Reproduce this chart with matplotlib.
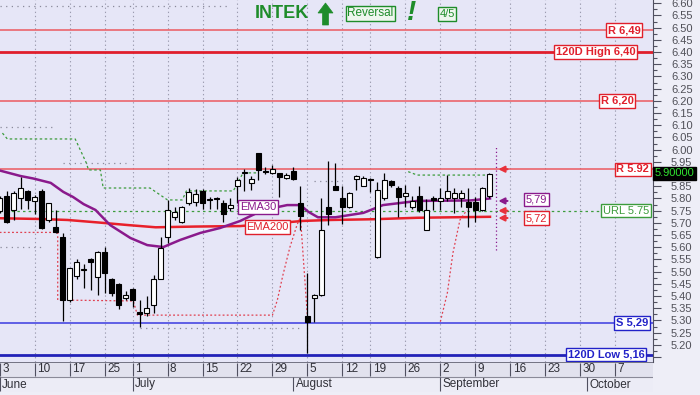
import matplotlib
matplotlib.use('Agg')
import matplotlib.pyplot as plt
import numpy as np
from matplotlib.patches import Polygon, Rectangle
from matplotlib.ticker import FixedLocator, FixedFormatter

plt.rcParams['font.family'] = ['Liberation Sans', 'DejaVu Sans']

# ---------------- data ----------------
opens = [5.75, 5.81, 5.753, 5.801, 5.832, 5.791, 5.832, 5.712, 5.682, 5.644,
         5.384, 5.482, 5.505, 5.551, 5.480, 5.582, 5.471, 5.450, 5.391, 5.430,
         5.335, 5.330, 5.362, 5.471, 5.644, 5.724, 5.705, 5.780, 5.787, 5.832,
         5.796, 5.800, 5.780, 5.760, 5.851, 5.905, 5.862, 5.985, 5.913, 5.903,
         5.903, 5.883, 5.911, 5.780, 5.318, 5.391, 5.404, 5.764, 5.852, 5.801,
         5.764, 5.881, 5.852, 5.881, 5.561, 5.801, 5.872, 5.842, 5.810, 5.764,
         5.810, 5.671, 5.801, 5.790, 5.801, 5.801, 5.801, 5.787, 5.787, 5.753,
         5.810]
highs = [5.81, 5.83, 5.83, 5.887, 5.835, 5.814, 5.838, 5.78, 5.753, 5.658,
         5.514, 5.551, 5.531, 5.556, 5.585, 5.603, 5.475, 5.455, 5.422, 5.433,
         5.384, 5.400, 5.486, 5.644, 5.794, 5.764, 5.770, 5.845, 5.838, 5.838,
         5.805, 5.808, 5.794, 5.801, 5.889, 5.920, 5.892, 5.985, 5.930, 5.937,
         5.905, 5.905, 5.930, 5.851, 5.493, 5.410, 5.801, 5.955, 5.944, 5.851,
         5.826, 5.895, 5.892, 5.885, 5.869, 5.903, 5.875, 5.851, 5.855, 5.810,
         5.851, 5.797, 5.810, 5.842, 5.896, 5.842, 5.835, 5.842, 5.807, 5.848,
         5.905]
lows = [5.74, 5.70, 5.712, 5.756, 5.756, 5.736, 5.675, 5.705, 5.66, 5.298,
        5.375, 5.469, 5.432, 5.425, 5.404, 5.411, 5.400, 5.346, 5.385, 5.357,
        5.275, 5.320, 5.330, 5.470, 5.616, 5.712, 5.700, 5.775, 5.770, 5.756,
        5.756, 5.756, 5.705, 5.750, 5.783, 5.832, 5.835, 5.876, 5.900, 5.900,
        5.805, 5.880, 5.875, 5.671, 5.166, 5.295, 5.400, 5.691, 5.833, 5.696,
        5.762, 5.835, 5.850, 5.828, 5.556, 5.795, 5.848, 5.725, 5.766, 5.756,
        5.746, 5.671, 5.753, 5.753, 5.790, 5.739, 5.764, 5.684, 5.705, 5.750,
        5.800]
closes = [5.80, 5.705, 5.821, 5.842, 5.794, 5.805, 5.678, 5.780, 5.663, 5.384,
          5.514, 5.541, 5.509, 5.541, 5.582, 5.493, 5.414, 5.364, 5.404, 5.384,
          5.328, 5.350, 5.471, 5.596, 5.753, 5.743, 5.764, 5.828, 5.818, 5.780,
          5.792, 5.796, 5.737, 5.772, 5.876, 5.909, 5.879, 5.917, 5.909, 5.920,
          5.887, 5.896, 5.879, 5.728, 5.295, 5.404, 5.671, 5.737, 5.835, 5.764,
          5.824, 5.892, 5.883, 5.877, 5.835, 5.876, 5.856, 5.805, 5.824, 5.791,
          5.753, 5.753, 5.794, 5.801, 5.832, 5.824, 5.824, 5.766, 5.753, 5.842,
          5.900]

ema30_idx = [0.1, 3.0, 4.8, 7.3, 9.1, 10.5, 12.0, 13.7, 15.8, 18.7, 21.1, 23.4, 25.8,
             28.7, 31.5, 34.4, 36.8, 39.1, 41.1, 43.0, 44.1, 45.5, 48.0, 52.0, 54.8,
             59.7, 67.3, 70.1]
ema30_val = [5.914, 5.892, 5.882, 5.864, 5.827, 5.806, 5.777, 5.753, 5.691, 5.638,
             5.609, 5.601, 5.630, 5.659, 5.679, 5.708, 5.741, 5.761, 5.773, 5.773,
             5.746, 5.723, 5.723, 5.741, 5.773, 5.790, 5.792, 5.800]

ema200_idx = [0.1, 5.8, 9.7, 14.4, 18.4, 22.3, 28.0, 34.4, 40.1, 43.3, 47.3, 53.4, 59.7, 70.1]
ema200_val = [5.719, 5.716, 5.712, 5.701, 5.691, 5.682, 5.685, 5.687, 5.700, 5.708,
              5.712, 5.715, 5.721, 5.725]

stop_up_idx = [0.4, 1.1, 10.8, 12.4, 12.7, 14.4, 14.8, 21.5, 24.0, 26.1, 26.7, 33.4, 34.8, 37.0]
stop_up_val = [6.068, 6.044, 6.044, 5.945, 5.917, 5.917, 5.843, 5.843, 5.794, 5.794,
               5.831, 5.831, 5.905, 5.905]
stop_up2_idx = [58.4, 59.7, 70.1]
stop_up2_val = [5.910, 5.896, 5.896]

sar1_idx = [0.0, 8.3, 8.3, 19.1, 19.7, 39.0, 39.7, 40.5, 41.5, 42.5, 43.0, 44.0]
sar1_val = [5.661, 5.661, 5.384, 5.380, 5.322, 5.322, 5.384, 5.487, 5.601, 5.691, 5.724, 5.314]
sar2_idx = [63.0, 64.0, 64.8, 65.8, 66.8]
sar2_val = [5.295, 5.413, 5.577, 5.712, 5.753]

swing_idx_start = [0, 0, 9, 45, 0, 20]
swing_idx_end = [33, 8, 18, 49, 6, 43]
swing_val = [6.59, 6.093, 5.946, 5.873, 5.60, 5.27]

week_idx = [0, 5, 10, 15, 19, 24, 29, 34, 39, 44, 49, 53, 58, 63, 68, 73, 78, 83, 88]
week_lab = ['3', '10', '17', '25', '1', '8', '15', '22', '29', '5', '12', '19', '26',
            '2', '9', '16', '23', '30', '7']
month_idx = [0, 19, 42, 63, 84]
month_lab = ['June', 'July', 'August', 'September', 'October']

res_levels = [6.49, 6.20, 5.92]
res_labels = ['R 6,49', 'R 6,20', 'R 5.92']
high120 = 6.40
low120 = 5.16
sup_level = 5.29
url_level = 5.75
ema30_last = 5.79
ema200_last = 5.72
last_price = 5.90

# ---------------- figure ----------------
W, H = 700, 395
fig = plt.figure(figsize=(W / 100, H / 100), dpi=100, facecolor='#EEEEF7')

def fx(x):
    return x / W

def fy(y):
    return 1 - y / H

PLOT_R = 653
PLOT_B = 362
ax = fig.add_axes([0, fy(PLOT_B), fx(PLOT_R), PLOT_B / H])
ax.set_facecolor('#E6E6F7')
XL = (0.05, 93.4)
YL = (5.1299, 6.6135)
ax.set_xlim(*XL)
ax.set_ylim(*YL)

# grid
for wi in week_idx[1:]:
    ax.axvline(wi, color='#9C9CB0', lw=0.8, ls=(0, (1.2, 2.5)), zorder=1)

# levels
RED = '#E8323C'
for lv in res_levels:
    ax.axhline(lv, color='#EC5A60', lw=1.1, zorder=2)
ax.axhline(high120, color='#E01E2C', lw=2.0, zorder=2)
ax.axhline(sup_level, color='#3A3AE0', lw=1.1, zorder=2)
ax.axhline(low120, color='#2222B8', lw=2.0, zorder=2)
ax.axhline(url_level, color='#3C9C3C', lw=0.9, ls=(0, (2, 2.5)), zorder=2)

# swing dotted lines
for s, e, v in zip(swing_idx_start, swing_idx_end, swing_val):
    ax.plot([s, e], [v, v], color='#8A8A9A', lw=0.9, ls=(0, (1, 3.5)), zorder=2)

# trailing stops
ax.plot(stop_up_idx, stop_up_val, color='#3C9C3C', lw=0.9, ls=(0, (2, 2)), zorder=2)
ax.plot(stop_up2_idx, stop_up2_val, color='#3C9C3C', lw=0.9, ls=(0, (2, 2)), zorder=2)
ax.plot(sar1_idx, sar1_val, color='#E04050', lw=0.9, ls=(0, (1.5, 1.8)), zorder=2)
ax.plot(sar2_idx, sar2_val, color='#E04050', lw=0.9, ls=(0, (1.5, 1.8)), zorder=2)

# EMAs
ax.plot(ema200_idx, ema200_val, color='#E8202A', lw=1.8, zorder=3)
ax.plot(ema30_idx, ema30_val, color='#8A1A8C', lw=1.8, zorder=3)

# candles
idx = np.arange(len(opens))
o = np.array(opens); c = np.array(closes); h = np.array(highs); l = np.array(lows)
ax.vlines(idx, l, h, color='black', lw=0.9, zorder=4)
up = c >= o
bottoms = np.minimum(o, c)
heights = np.maximum(np.abs(c - o), 0.003)
ax.bar(idx[up], heights[up], bottom=bottoms[up], width=0.66, color='white',
       edgecolor='black', lw=0.8, zorder=5)
ax.bar(idx[~up], heights[~up], bottom=bottoms[~up], width=0.66, color='black',
       edgecolor='black', lw=0.8, zorder=5)

# marker line and arrows
ax.plot([71, 71], [5.59, 6.01], color='#8A1A8C', lw=0.9, ls=(0, (1, 2)), zorder=3)
for lv, col in [(5.92, RED), (ema30_last, '#8A1A8C'), (url_level, RED), (ema200_last, RED)]:
    ax.annotate('', xy=(71.3, lv), xytext=(72.6, lv),
                arrowprops=dict(arrowstyle='-|>,head_length=0.35,head_width=0.18',
                                color=col, lw=1.5, shrinkA=0, shrinkB=0), zorder=6)

# labels
def box(x, y, s, col, bold=False, ha='center'):
    ax.text(x, y, s, color=col, fontsize=8, fontweight='bold' if bold else 'normal',
            ha=ha, va='center', zorder=7,
            bbox=dict(boxstyle='square,pad=0.15', fc='white', ec=col, lw=1))

box(89.3, 6.49, res_labels[0], '#E0202C', True)
box(85.2, 6.40, '120D High 6,40', '#E0202C', True)
box(88.3, 6.20, res_labels[1], '#E0202C', True)
box(90.5, 5.92, res_labels[2], '#E0202C', True)
box(89.5, 5.75, 'URL 5.75', '#3C9C3C')
box(90.4, 5.29, 'S 5,29', '#2222C8', True)
box(86.7, 5.16, '120D Low 5,16', '#2222C8', True)
box(76.7, 5.796, '5,79', '#8A1A8C')
box(76.7, 5.72, '5,72', '#E0202C')
box(36.9, 5.765, 'EMA30', '#8A1A8C')
box(38.3, 5.683, 'EMA200', '#E0202C')

# right axis
for sp in ['top', 'left', 'bottom']:
    ax.spines[sp].set_visible(False)
ax.spines['right'].set_color('#505060')
ax.yaxis.tick_right()
ticks = [round(5.15 + 0.05 * k, 2) for k in range(30)]
ax.yaxis.set_major_locator(FixedLocator(ticks))
ax.yaxis.set_major_formatter(FixedFormatter(
    ['' if (t < 5.17 or abs(t - last_price) < 0.01) else f'{t:.2f}' for t in ticks]))
ax.yaxis.set_minor_locator(FixedLocator([t + 0.025 for t in ticks]))
ax.tick_params(axis='y', which='major', direction='out', length=6, width=0.8,
               color='#505060', labelsize=8, labelcolor='#505058', pad=7)
ax.tick_params(axis='y', which='minor', direction='out', length=3, width=0.8, color='#505060')
ax.set_xticks([])

# bottom date axis
axx = fig.add_axes([0, fy(392), fx(PLOT_R), 30 / H])
axx.set_xlim(*XL)
axx.set_ylim(0, 2)
axx.axis('off')
axx.add_patch(Rectangle((XL[0], 1), XL[1] - XL[0], 1, fc='#E2E2EE', ec='none'))
axx.add_patch(Rectangle((XL[0], 0), XL[1] - XL[0], 1, fc='#ECECF6', ec='none'))
axx.plot(XL, [2, 2], color='#606070', lw=1.2)
axx.plot(XL, [1, 1], color='#8A8A98', lw=0.8)
axx.vlines(week_idx, 1.1, 1.95, color='#505060', lw=0.8)
axx.vlines(month_idx, 0.05, 1.0, color='#505060', lw=0.8)
for wi, wl in zip(week_idx, week_lab):
    axx.text(wi + 0.35, 1.5, wl, fontsize=8.5, color='#303038', ha='left', va='center')
for mi, ml in zip(month_idx, month_lab):
    axx.text(mi + 0.35, 0.5, ml, fontsize=8.5, color='#303038', ha='left', va='center')

# last price box
fig.text(fx(674.5), fy(173.5), '5.90000', fontsize=8, color='#30E030', ha='center', va='center',
         bbox=dict(boxstyle='square,pad=0.12', fc='black', ec='black'), zorder=10)

# title
GREEN = '#1E8C2A'
fig.text(fx(255), fy(14), 'INTEK', fontsize=13, fontweight='bold', color=GREEN, ha='left', va='center')
arrow_pts = [(318, 13), (325.5, 3), (333, 13), (328.5, 13), (328.5, 25), (322.5, 25), (322.5, 13)]
fig.patches.append(Polygon([(fx(x), fy(y)) for x, y in arrow_pts], closed=True,
                           transform=fig.transFigure, fc=GREEN, ec=GREEN, lw=0.5))
fig.text(fx(370.5), fy(13.5), 'Reversal', fontsize=8.5, color=GREEN, ha='center', va='center',
         bbox=dict(boxstyle='square,pad=0.15', fc='#EEF6EE', ec=GREEN, lw=1))
fig.text(fx(412), fy(13.5), '!', fontsize=20, fontweight='bold', fontstyle='italic',
         color=GREEN, ha='center', va='center')
fig.text(fx(447), fy(14), '4/5', fontsize=8, color=GREEN, ha='center', va='center',
         bbox=dict(boxstyle='square,pad=0.15', fc='#EEF6EE', ec=GREEN, lw=1))

fig.savefig('out.png', dpi=100, facecolor=fig.get_facecolor())
